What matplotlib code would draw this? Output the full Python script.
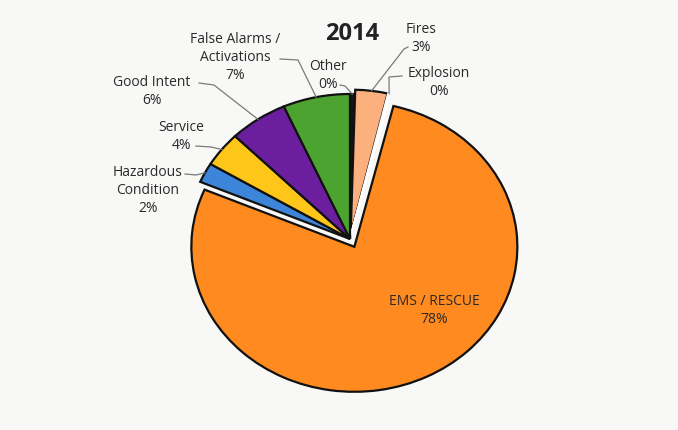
import matplotlib.pyplot as plt
import numpy as np

# 2014 incident types, share of all calls (%)
categories = ["Other", "Fires", "Explosion", "EMS / RESCUE", "Hazardous\nCondition",
              "Service", "Good Intent", "False Alarms /\nActivations"]
shares = [0.45, 3.2, 0.2, 77.6, 2.2, 3.9, 5.8, 6.65]
colors = ["#161616", "#FBB07E", "#FFFFFF", "#FF8A1F", "#3D85D8",
          "#FFC61A", "#6B1E9E", "#4DA32F"]
explode = [0, 0.03, 0.03, 0.06, 0, 0, 0, 0]

# pie centre and radii in pixels (the pie is drawn slightly squashed)
cx, cy = 350, 240
sx, sy = 163, 145
W, H = 678, 431


def px(x, y):
    return (x - cx) / sx, (cy - y) / sy


fig = plt.figure(figsize=(W / 100, H / 100), dpi=100)
fig.patch.set_facecolor("#F8F8F7")
ax = fig.add_axes([0, 0, 1, 1])
ax.set_facecolor("#F8F8F7")

wedges, _ = ax.pie(shares, colors=colors, explode=explode, startangle=90,
                   counterclock=False, radius=1,
                   wedgeprops=dict(edgecolor="#111111", linewidth=1.6))
# the tiny explosion slice shows only as a light gap
wedges[categories.index("Explosion")].set_edgecolor("#FFFFFF")
ax.set_aspect("auto")
ax.set_xlim(-cx / sx, (W - cx) / sx)
ax.set_ylim((cy - H) / sy, cy / sy)
ax.axis("off")

# label centre x, first-line y, leader start and elbow (pixels)
label_pos = {
    "Other": (328, 67, (340, 86), (345, 87)),
    "Fires": (421, 30, (408, 48), (404, 50)),
    "Explosion": (439, 74, (402, 77), (389, 78)),
    "Hazardous\nCondition": (148, 173, (185, 175), (196, 176)),
    "Service": (181, 128, (196, 147), (211, 148)),
    "Good Intent": (152, 83, (199, 84), (214, 86)),
    "False Alarms /\nActivations": (235, 40, (280, 60), (298, 61)),
}
line_step = 17.5

font = dict(family="Open Sans", fontsize=10, color="#2a2a2a", linespacing=1.3)
for w, name, val in zip(wedges, categories, shares):
    label = f"{name}\n{round(val):.0f}%"
    nlines = label.count("\n") + 1
    if name not in label_pos:
        x, y = px(434, 302 + line_step / 2)
        ax.text(x, y, label, ha="center", va="center", **font)
        continue
    lx, ly, start, elbow = label_pos[name]
    x, y = px(lx, ly + (nlines - 1) * line_step / 2)
    ax.text(x, y, label, ha="center", va="center", **font)
    ang = np.deg2rad((w.theta1 + w.theta2) / 2)
    ex = w.center[0] + w.r * np.cos(ang)
    ey = w.center[1] + w.r * np.sin(ang)
    p0, p1 = px(*start), px(*elbow)
    ax.plot([p0[0], p1[0], ex], [p0[1], p1[1], ey], color="#7a7a7a", lw=0.9)

tx, ty = px(352, 34)
ax.text(tx, ty, "2014", ha="center", va="center", family="Open Sans",
        fontsize=17, fontweight="bold", color="#222222")

fig.savefig("out.png", dpi=100, facecolor=fig.get_facecolor())
